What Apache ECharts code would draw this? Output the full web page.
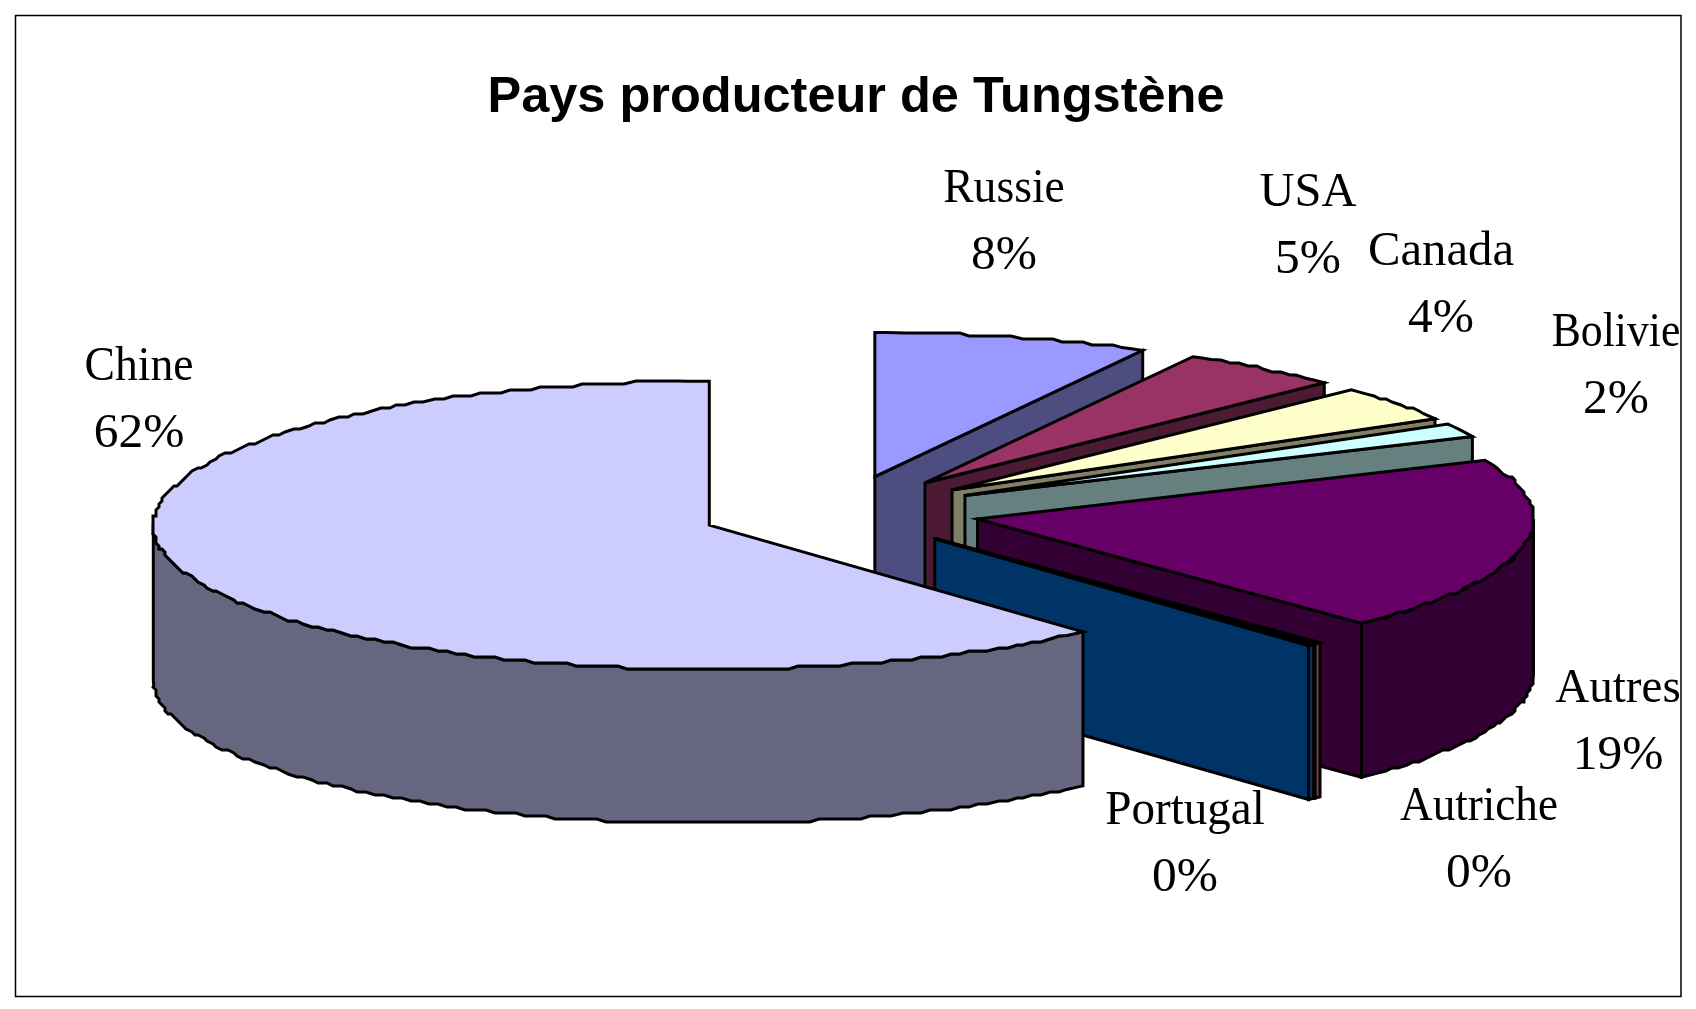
<!DOCTYPE html>
<html>
<head>
<meta charset="utf-8">
<style>html,body{margin:0;padding:0;background:#fff}#c{width:1696px;height:1009px}</style>
<script src="https://cdn.jsdelivr.net/npm/echarts@6/dist/echarts.min.js"></script>
</head>
<body>
<div id="c"></div>
<script>
const categories = ['Russie','USA','Canada','Bolivie','Autres','Autriche','Portugal','Chine'];
const shares = [8.0, 4.75, 4.0, 1.55, 19.57, 0.2, 0.2, 61.73];
const percentLabels = ['8%','5%','4%','2%','19%','0%','0%','62%'];
const topColors = ['#9999FF','#993366','#FFFFCC','#CCFFFF','#660066','#FF8080','#0066CC','#CCCCFF'];
const wallColors = ['#4D4D80','#4D1A33','#808066','#668080','#330033','#804040','#003366','#666680'];
const titleText = 'Pays producteur de Tungstène';
// Layout
const labelCentres = {Russie:[1004,223],USA:[1308,227],Canada:[1441,286],Bolivie:[1616,367],
  Autres:[1618,723],Autriche:[1479,841],Portugal:[1185,845],Chine:[139,401]};
const nameFit = {Russie:.95,USA:1.01,Canada:1.015,Bolivie:.91,Autres:.98,Autriche:.94,Portugal:.98,Chine:.95};
const pie = {cx:840, cy:512, rx:556, ry:144, depth:154, explodeX:0.252, explodeY:0.254, jag:3};

const total = shares.reduce((a,b)=>a+b,0);
const rad = d => d*Math.PI/180;
function sliceAngles(i){
  let s = 0; for(let k=0;k<i;k++) s += shares[k];
  return [s/total*360, (s+shares[i])/total*360];
}
function render(params, api){
  const i = params.dataIndex;
  const [a0,a1] = sliceAngles(i);
  const mid = (a0+a1)/2;
  const cx = pie.cx + pie.explodeX*pie.rx*Math.sin(rad(mid));
  const cy = pie.cy - pie.explodeY*pie.ry*Math.cos(rad(mid));
  const q = x => Math.round(x/pie.jag)*pie.jag;
  const rim = (a,d,exact) => {
    const x = cx+pie.rx*Math.sin(rad(a)), y = cy-pie.ry*Math.cos(rad(a))+(d||0);
    return exact ? [x,y] : [q(x),q(y)];
  };
  const arc = (from,to,d) => {
    const pts = [rim(from,d,true)];
    for(let a=from+1.1;a<to;a+=1.1) pts.push(rim(a,d,a-from<2.5||to-a<2.5));
    pts.push(rim(to,d,true));
    return pts;
  };
  const line = {stroke:'#000',lineWidth:3,lineJoin:'miter',miterLimit:6};
  const poly = (points,fill) => ({type:'polygon',z2:i*4,shape:{points},style:Object.assign({fill},line)});
  const children = [];
  const lo = Math.max(a0,90), hi = Math.min(a1,270);
  if(hi>lo){
    const top = arc(lo,hi,0), bot = arc(lo,hi,pie.depth).reverse();
    children.push(poly(top.concat(bot),wallColors[i]));
  }
  if(a1<180){
    const e = rim(a1,0,true);
    children.push(poly([[cx,cy],e,[e[0],e[1]+pie.depth],[cx,cy+pie.depth]],wallColors[i]));
  }
  children.push(poly([[cx,cy]].concat(arc(a0,a1,0)),topColors[i]));
  const c = labelCentres[categories[i]];
  const label = (text,y,fit) => ({type:'text',z2:100,x:c[0],y,scaleX:fit,
    style:{x:0,y:0,text,align:'center',verticalAlign:'middle',fill:'#000',font:'48px "Liberation Serif"'}});
  children.push(label(categories[i],c[1]-33.5,nameFit[categories[i]]));
  children.push(label(percentLabels[i],c[1]+33.5,1.03));
  return {type:'group',children};
}
const chart = echarts.init(document.getElementById('c'),null,{renderer:'canvas'});
chart.setOption({
  animation:false,
  backgroundColor:'#fff',
  title:{text:titleText,left:851,top:68,textAlign:'center',
    textStyle:{fontFamily:'Liberation Sans',fontWeight:'bold',fontSize:50.5,color:'#000'}},
  graphic:[{type:'rect',z:-1,shape:{x:15.5,y:15.5,width:1665.5,height:981},
    style:{fill:'#fff',stroke:'#000',lineWidth:1.5}}],
  series:[{type:'custom',coordinateSystem:'none',silent:true,clip:false,
    renderItem:render,data:shares.map((v,i)=>[v,i])}]
});
</script>
</body>
</html>
